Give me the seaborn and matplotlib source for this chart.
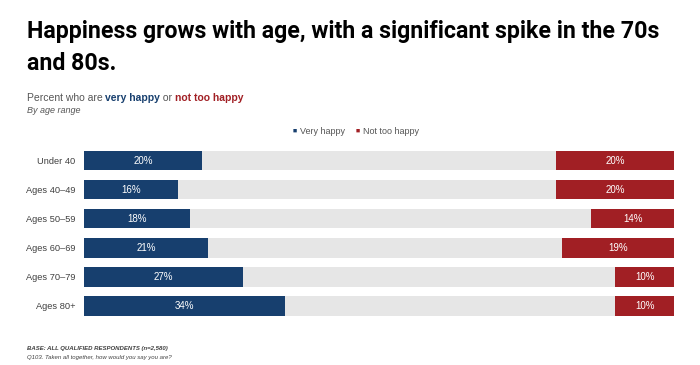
import seaborn as sns
import matplotlib.pyplot as plt
import pandas as pd

ages = ["Under 40", "Ages 40\u201349", "Ages 50\u201359", "Ages 60\u201369", "Ages 70\u201379", "Ages 80+"]
very_happy = [20, 16, 18, 21, 27, 34]
not_too_happy = [20, 20, 14, 19, 10, 10]

BLUE = "#173f6e"
RED = "#a11f24"
GREY = "#e6e6e6"
TXT = "#404040"

sns.set_style("white")
plt.rcParams["font.family"] = ["Liberation Sans", "DejaVu Sans"]

df = pd.DataFrame({"age": ages, "vh": very_happy, "nth": not_too_happy})
df["full"] = 100
df["rest"] = 100 - df["nth"]

fig = plt.figure(figsize=(7, 3.65), dpi=100)
ax = fig.add_axes([0.12, 0.122, 0.843, 0.477])

w = 0.66
# red underneath, grey covers everything left of the red part, blue on top
for col, c in [("full", RED), ("rest", GREY), ("vh", BLUE)]:
    sns.barplot(data=df, x=col, y="age", color=c, width=w, saturation=1,
                linewidth=0, ax=ax)

for i, (v, n) in enumerate(zip(very_happy, not_too_happy)):
    ax.text(v / 2, i, f"{v}%", color="white", ha="center", va="center", fontsize=7)
    ax.text(100 - n / 2, i, f"{n}%", color="white", ha="center", va="center", fontsize=7)

ax.set_xlim(0, 100)
ax.set_ylim(5.5, -0.5)
ax.set_xlabel("")
ax.set_ylabel("")
ax.set_xticks([])
ax.tick_params(axis="y", length=0, pad=6, labelsize=6.7, labelcolor=TXT)
sns.despine(ax=ax, left=True, bottom=True)

fig.canvas.draw()
r = fig.canvas.get_renderer()

title_font = ["Roboto", "DejaVu Sans"]
t1 = fig.text(0.038, 0.896, "Happiness grows with age, with a significant spike in the 70s",
              fontsize=18, fontweight="bold", va="baseline", ha="left", color="black", family=title_font)
tw = t1.get_window_extent(renderer=r).width
tsize = 18 * 633 / tw
t1.set_fontsize(tsize)
fig.text(0.038, 0.808, "and 80s.",
         fontsize=tsize, fontweight="bold", va="baseline", ha="left", color="black", family=title_font)

# subtitle with coloured words
x = 0.038
for s, c, wgt in [("Percent who are\u00a0", "#555555", "normal"), ("very happy", BLUE, "bold"),
                  ("\u00a0or\u00a0", "#555555", "normal"), ("not too happy", RED, "bold")]:
    t = fig.text(x, 0.723, s, fontsize=7.5, color=c, fontweight=wgt, va="baseline")
    x += t.get_window_extent(renderer=r).width / fig.bbox.width
fig.text(0.038, 0.69, "By age range", fontsize=6.5, style="italic", color="#555555", va="baseline")

# legend
fig.text(0.418, 0.64, "\u25a0", fontsize=5, color=BLUE, va="center", ha="left")
fig.text(0.428, 0.64, "Very happy", fontsize=6.5, color="#555555", va="center", ha="left")
fig.text(0.508, 0.64, "\u25a0", fontsize=5, color=RED, va="center", ha="left")
fig.text(0.518, 0.64, "Not too happy", fontsize=6.5, color="#555555", va="center", ha="left")

fig.text(0.038, 0.045, "BASE: ALL QUALIFIED RESPONDENTS (n=2,580)", fontsize=4.3,
         fontweight="bold", style="italic", color=TXT, va="center")
fig.text(0.038, 0.02, "Q103. Taken all together, how would you say you are?", fontsize=4.3,
         style="italic", color=TXT, va="center")

fig.savefig("out.png", dpi=100)
